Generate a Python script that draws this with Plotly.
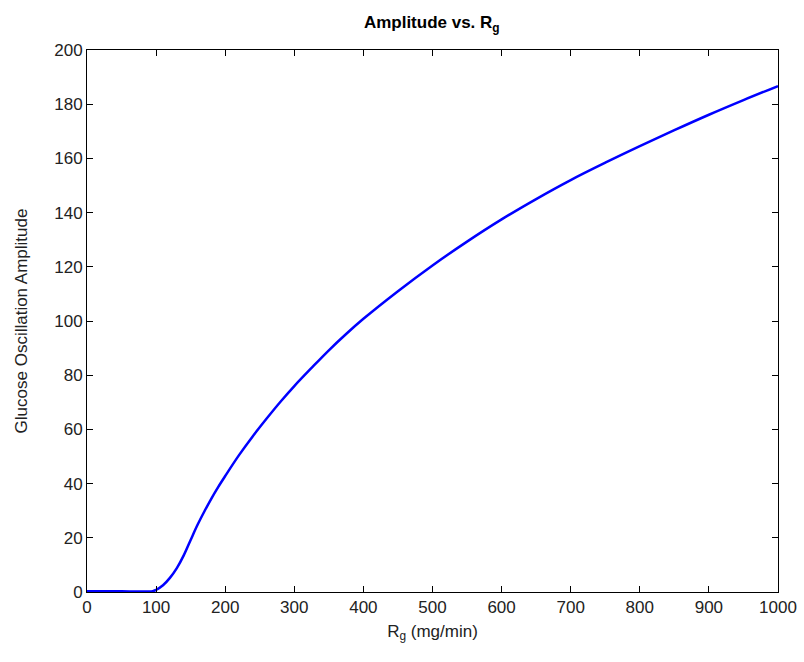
import plotly.graph_objects as go

rg = [0, 50, 95, 100, 110, 120, 130, 140, 150, 160, 170, 180, 190, 200, 220, 240, 260, 280,
      300, 325, 350, 375, 400, 450, 500, 550, 600, 650, 700, 750, 800, 850, 900, 950, 1000]
amp = [0.3, 0.3, 0.3, 0.8, 2.5, 5.2, 8.8, 13.5, 19.2, 24.8, 29.8, 34.5, 38.8, 42.8, 50.5, 57.5, 64.0, 70.2,
       76.0, 82.7, 89.2, 95.2, 100.8, 111.0, 120.5, 129.3, 137.5, 145.0, 152.0, 158.4, 164.5, 170.4, 176.1, 181.5, 186.7]

xticks = list(range(0, 1001, 100))
yticks = list(range(0, 201, 20))

font = "Liberation Sans Narrow, Arial Narrow, Liberation Sans, Arial, sans-serif"

fig = go.Figure()
fig.add_trace(go.Scatter(x=rg, y=amp, mode="lines", line=dict(color="#0000ff", width=2.5),
                         line_shape="spline", showlegend=False, cliponaxis=False))

axis_common = dict(showgrid=False, zeroline=False, showline=True, linecolor="#000000", linewidth=1,
                   mirror="ticks", ticks="inside", ticklen=6, tickcolor="#000000", automargin=False,
                   tickfont=dict(family=font, size=17, color="#222222"))

fig.update_layout(
    width=804, height=662,
    margin=dict(l=87, r=26, t=50, b=70, autoexpand=False),
    paper_bgcolor="white", plot_bgcolor="white",
    title=dict(text="<b>Amplitude vs. R<sub>g</sub></b>", x=0.537, xanchor="center", y=0.975, yanchor="top",
               font=dict(family=font, size=17, color="#000000")),
    xaxis=dict(range=[0, 1000], tickvals=xticks, ticktext=[str(v) for v in xticks],
               title=dict(text="R<sub>g</sub> (mg/min)", font=dict(family=font, size=17, color="#222222"), standoff=8),
               **axis_common),
    yaxis=dict(range=[0, 200], tickvals=yticks, ticktext=[str(v) for v in yticks],
               title=dict(text="Glucose Oscillation Amplitude", font=dict(family=font, size=17, color="#222222"), standoff=22),
               **axis_common),
)

fig.write_html("out.html")
